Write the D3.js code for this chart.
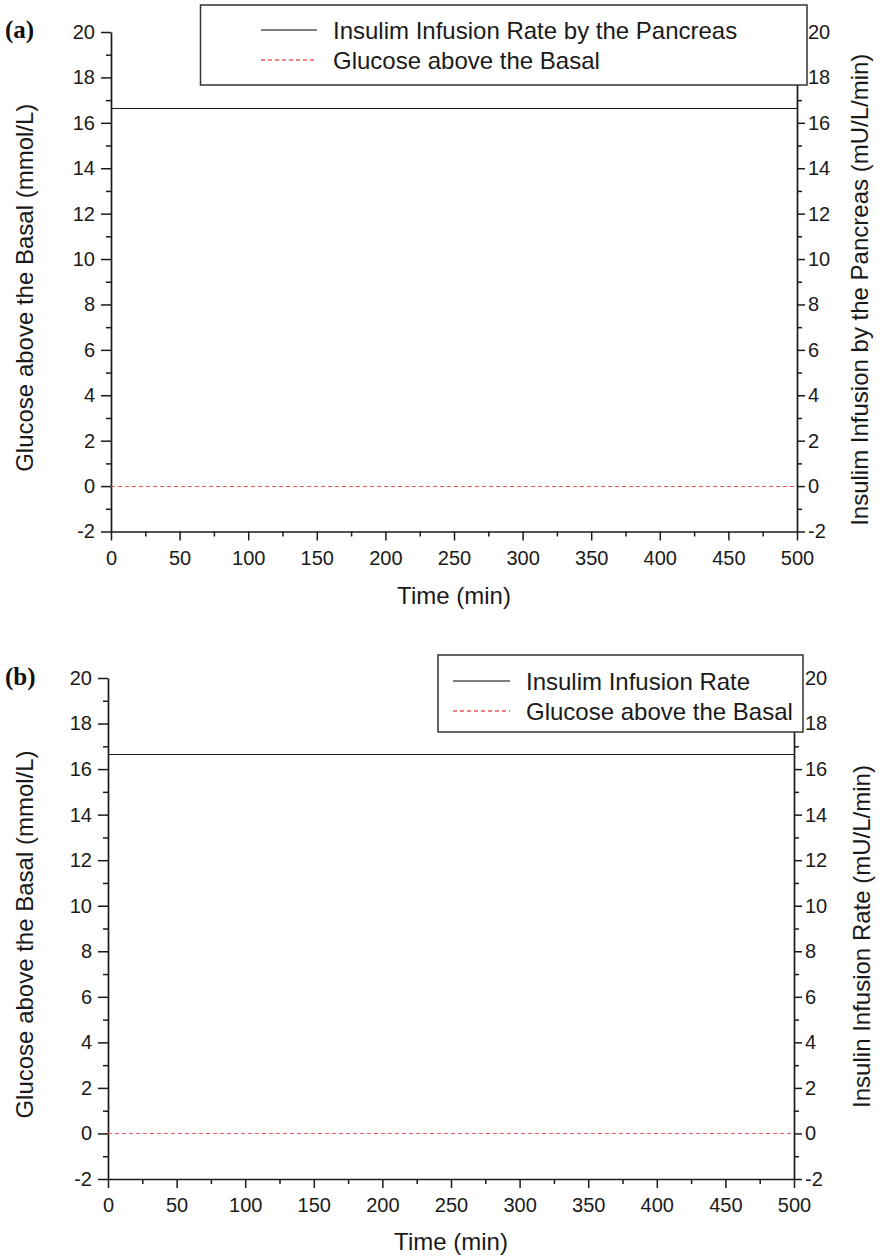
<!DOCTYPE html>
<html>
<head>
<meta charset="utf-8">
<script src="https://cdn.jsdelivr.net/npm/d3@7"></script>
<style>
  html, body { margin: 0; padding: 0; background: #fff; }
  svg { display: block; font-family: "Liberation Sans", Arial, Helvetica, sans-serif; }
</style>
</head>
<body>
<svg id="chart" width="880" height="1259"></svg>
<script>
// ---- Data ----
const timeValues = [0, 500];
const insulinA = [16.67, 16.67];     // Insulim Infusion Rate by the Pancreas (mU/L/min)
const glucoseA = [0, 0];             // Glucose above the Basal (mmol/L)
const insulinB = [16.67, 16.67];     // Insulim Infusion Rate (mU/L/min)
const glucoseB = [0, 0];             // Glucose above the Basal (mmol/L)
const xTicks = [0, 50, 100, 150, 200, 250, 300, 350, 400, 450, 500];
const yTicks = [-2, 0, 2, 4, 6, 8, 10, 12, 14, 16, 18, 20];
const panelLabels = ["(a)", "(b)"];
const legendA = ["Insulim Infusion Rate by the Pancreas", "Glucose above the Basal"];
const legendB = ["Insulim Infusion Rate", "Glucose above the Basal"];
const leftTitle = "Glucose above the Basal (mmol/L)";
const rightTitleA = "Insulim Infusion by the Pancreas (mU/L/min)";
const rightTitleB = "Insulin Infusion Rate (mU/L/min)";
const xTitle = "Time (min)";

const svg = d3.select("#chart");
const RED = "#ee5a5a";
const INK = "#1a1a1a";

function drawPanel(o) {
  const g = svg.append("g");
  const x = d3.scaleLinear().domain([0, 500]).range([o.left, o.right]);
  const y = d3.scaleLinear().domain([-2, 20]).range([o.bottom, o.top]);
  const xMinor = d3.range(25, 500, 50);
  const yMinor = d3.range(-1, 20, 2);
  const fmt = d => d < 0 ? "-" + Math.abs(d) : String(d);

  // minor ticks
  g.append("g").attr("transform", `translate(0,${o.bottom})`)
    .call(d3.axisBottom(x).tickValues(xMinor).tickSize(5).tickFormat(""))
    .call(s => s.select(".domain").remove());
  g.append("g").attr("transform", `translate(${o.left},0)`)
    .call(d3.axisLeft(y).tickValues(yMinor).tickSize(5).tickFormat(""))
    .call(s => s.select(".domain").remove());
  g.append("g").attr("transform", `translate(${o.right},0)`)
    .call(d3.axisRight(y).tickValues(yMinor).tickSize(5).tickFormat(""))
    .call(s => s.select(".domain").remove());

  // major axes
  g.append("g").attr("transform", `translate(0,${o.bottom})`)
    .call(d3.axisBottom(x).tickValues(xTicks).tickSize(9).tickSizeOuter(0).tickPadding(10).tickFormat(d3.format("d")));
  g.append("g").attr("transform", `translate(${o.left},0)`)
    .call(d3.axisLeft(y).tickValues(yTicks).tickSize(10).tickSizeOuter(0).tickPadding(6).tickFormat(fmt));
  g.append("g").attr("transform", `translate(${o.right},0)`)
    .call(d3.axisRight(y).tickValues(yTicks).tickSize(8).tickSizeOuter(0).tickPadding(3).tickFormat(fmt));

  g.selectAll("g").attr("font-family", "Liberation Sans, Arial, sans-serif");
  g.selectAll(".domain").attr("stroke", INK).attr("stroke-width", 1.7);
  g.selectAll(".tick line").attr("stroke", INK).attr("stroke-width", 1.5);
  g.selectAll(".tick text").attr("font-size", 20).attr("fill", INK);

  // data lines
  const line = d3.line().x((d, i) => x(timeValues[i])).y(d => Math.round(y(d)) + 0.5);
  g.append("path").datum(o.insulin)
    .attr("d", line)
    .attr("fill", "none").attr("stroke", INK).attr("stroke-width", 1.2);
  g.append("path").datum(o.glucose)
    .attr("d", line)
    .attr("fill", "none").attr("stroke", RED).attr("stroke-width", 1.2)
    .attr("stroke-dasharray", "4,3");

  // titles
  g.append("text").attr("x", (o.left + o.right) / 2).attr("y", o.bottom + o.xTitleOff)
    .attr("text-anchor", "middle").attr("font-size", 24).attr("fill", INK).text(xTitle);
  g.append("text")
    .attr("transform", `translate(${o.left - o.lTitleOff},${(o.top + o.bottom) / 2 + 6}) rotate(-90)`)
    .attr("text-anchor", "middle").attr("font-size", 24).attr("fill", INK).text(leftTitle);
  g.append("text")
    .attr("transform", `translate(${o.right + o.rTitleOff},${(o.top + o.bottom) / 2 + 8}) rotate(-90)`)
    .attr("text-anchor", "middle").attr("font-size", 24).attr("fill", INK).text(o.rightTitle);

  // panel label
  g.append("text").attr("x", 5).attr("y", o.labelY)
    .attr("font-family", "Liberation Serif, Times New Roman, serif")
    .attr("font-weight", "bold").attr("font-size", 25).attr("fill", "#111").text(o.label);

  // legend
  const lg = g.append("g");
  lg.append("rect").attr("x", o.lg.x0).attr("y", o.lg.y0)
    .attr("width", o.lg.x1 - o.lg.x0).attr("height", o.lg.y1 - o.lg.y0)
    .attr("fill", "#fff").attr("stroke", "#333").attr("stroke-width", 1.5);
  const styles = [{stroke: "#555", dash: null, w: 1.6}, {stroke: RED, dash: "4,3", w: 1.3}];
  o.legend.forEach((t, i) => {
    const cy = o.lg.rowY[i];
    lg.append("line").attr("x1", o.lg.s0).attr("x2", o.lg.s1).attr("y1", cy).attr("y2", cy)
      .attr("stroke", styles[i].stroke).attr("stroke-width", styles[i].w)
      .attr("stroke-dasharray", styles[i].dash);
    lg.append("text").attr("x", o.lg.tx).attr("y", cy).attr("dy", "0.36em")
      .attr("font-size", 24).attr("fill", INK).text(t);
  });
}

drawPanel({
  left: 111, right: 797, top: 32, bottom: 531.5, labelY: 38,
  xTitleOff: 72.5, lTitleOff: 78, rTitleOff: 71,
  insulin: insulinA, glucose: glucoseA, rightTitle: rightTitleA, label: panelLabels[0],
  legend: legendA,
  lg: {x0: 200.5, x1: 807, y0: 5, y1: 85, s0: 261, s1: 317, tx: 333, rowY: [30, 60]}
});
drawPanel({
  left: 108, right: 794, top: 678, bottom: 1179, labelY: 685,
  xTitleOff: 71, lTitleOff: 75, rTitleOff: 76,
  insulin: insulinB, glucose: glucoseB, rightTitle: rightTitleB, label: panelLabels[1],
  legend: legendB,
  lg: {x0: 438, x1: 803, y0: 655, y1: 732, s0: 453, s1: 510, tx: 526, rowY: [681, 711]}
});
</script>
</body>
</html>
